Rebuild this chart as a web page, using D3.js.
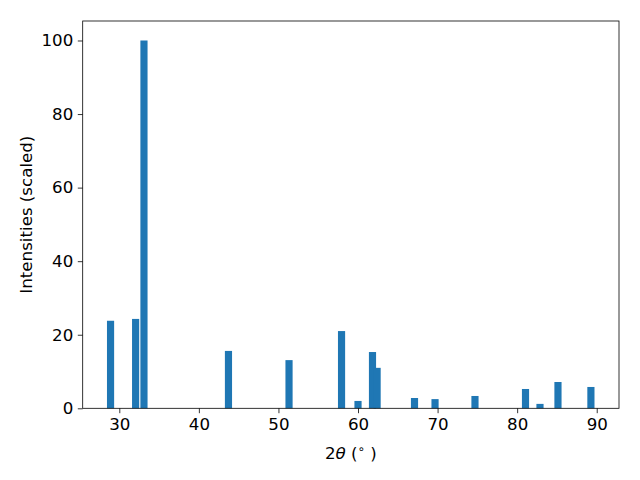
<!DOCTYPE html>
<html><head><meta charset="utf-8">
<script src="https://cdn.jsdelivr.net/npm/d3@7"></script>
<style>body{margin:0;background:#fff}svg{display:block}text{font-family:"DejaVu Sans",sans-serif}</style>
</head><body>
<script>
const positions = [28.9, 32.05, 33.1, 43.72, 51.33, 57.93, 60.0, 61.82, 62.4, 67.1, 69.68, 74.7, 81.05, 82.87, 85.13, 89.27];
const intensities = [23.8, 24.3, 100, 15.6, 13.1, 21.0, 2.0, 15.3, 11.0, 2.8, 2.5, 3.35, 5.25, 1.2, 7.15, 5.8];
const xTicks = [30, 40, 50, 60, 70, 80, 90];
const yTicks = [0, 20, 40, 60, 80, 100];
const barWidth = 0.9;

const W = 640, H = 480;
const FS = 16.67;
const m = {l: 82.7, r: 619, t: 21, b: 408.3};
const svg = d3.select("body").append("svg").attr("width", W).attr("height", H);
const x = d3.scaleLinear().domain([25.4, 92.8]).range([m.l, m.r]);
const y = d3.scaleLinear().domain([0, 105.3]).range([m.b, m.t]);

svg.append("g").selectAll("rect").data(positions).join("rect")
  .attr("x", (d) => x(d - barWidth / 2))
  .attr("width", (d) => x(d + barWidth / 2) - x(d - barWidth / 2))
  .attr("y", (d, i) => y(intensities[i]))
  .attr("height", (d, i) => y(0) - y(intensities[i]))
  .attr("fill", "#1f77b4");

const xa = svg.append("g").attr("transform", `translate(0,${m.b})`)
  .call(d3.axisBottom(x).tickValues(xTicks).tickSize(4.9).tickPadding(5).tickFormat(d3.format("d")));
const ya = svg.append("g").attr("transform", `translate(${m.l},0)`)
  .call(d3.axisLeft(y).tickValues(yTicks).tickSize(4.9).tickPadding(4.5).tickFormat(d3.format("d")));
[xa, ya].forEach(g => {
  g.attr("font-size", FS).attr("font-family", "DejaVu Sans");
  g.select(".domain").remove();
  g.selectAll("line").attr("stroke", "#000").attr("stroke-width", 0.8);
  g.selectAll("text").attr("fill", "#000");
});

svg.append("rect").attr("x", m.l).attr("y", m.t).attr("width", m.r - m.l).attr("height", m.b - m.t)
  .attr("fill", "none").attr("stroke", "#000").attr("stroke-width", 0.8);

const xl = svg.append("text").attr("x", (m.l + m.r) / 2).attr("y", 459)
  .attr("text-anchor", "middle").attr("font-size", FS).attr("fill", "#000");
xl.append("tspan").text("2");
xl.append("tspan").attr("font-style", "italic").text("θ");
xl.append("tspan").text(" (");
xl.append("tspan").attr("font-size", FS * 0.7).attr("dy", -6).text("∘");
xl.append("tspan").attr("dy", 6).text(" )");

svg.append("text").attr("transform", `translate(32,${(m.t + m.b) / 2}) rotate(-90)`)
  .attr("text-anchor", "middle").attr("font-size", FS).attr("fill", "#000")
  .text("Intensities (scaled)");
</script>
</body></html>
